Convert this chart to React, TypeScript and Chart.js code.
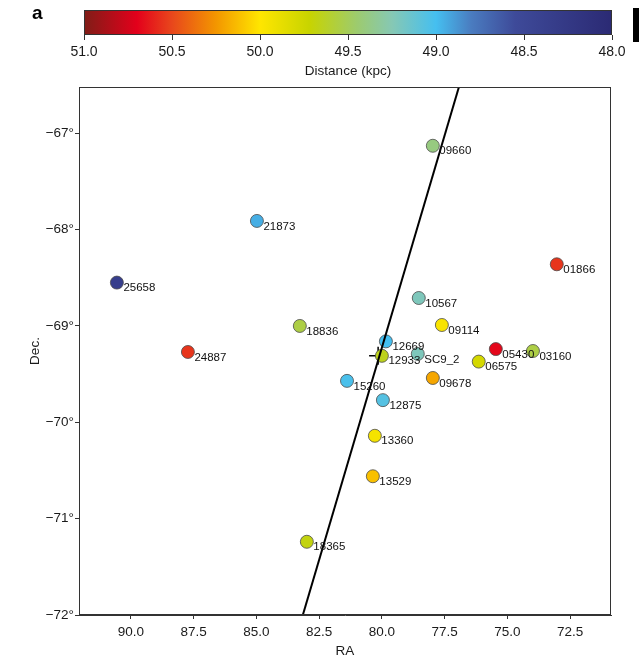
import React, { useEffect, useRef } from "react";
import { Chart, registerables } from "chart.js";
Chart.register(...registerables);

// ---- data ----
const starIds = ["09660", "21873", "25658", "01866", "10567", "18836", "24887", "09114", "12669", "12933", "SC9_2", "05430", "03160", "06575", "09678", "15260", "12875", "13360", "13529", "18365"];
const raValues = [77.97, 84.98, 90.56, 73.03, 78.53, 83.27, 87.73, 77.61, 79.84, 80.0, 78.57, 75.46, 73.98, 76.14, 77.97, 81.39, 79.96, 80.28, 80.36, 82.99];
const decValues = [-67.13, -67.91, -68.55, -68.36, -68.71, -69.0, -69.27, -68.99, -69.16, -69.31, -69.29, -69.24, -69.26, -69.37, -69.54, -69.57, -69.77, -70.14, -70.56, -71.24];
const distances = [49.4, 48.95, 48.35, 50.55, 49.22, 49.55, 50.55, 49.97, 49.0, 49.65, 49.22, 50.68, 49.55, 49.78, 50.2, 49.02, 49.06, 49.95, 50.12, 49.68];

const lineRA = [76.93, 83.15];
const lineDec = [-66.52, -72.0];
const centerRA = [80.15];
const centerDec = [-69.31];

const raTicks = [90.0, 87.5, 85.0, 82.5, 80.0, 77.5, 75.0, 72.5];
const decTicks = [-72, -71, -70, -69, -68, -67];
const distanceTicks = [51.0, 50.5, 50.0, 49.5, 49.0, 48.5, 48.0];

const cmapValues = [51.0, 50.7, 50.5, 50.25, 50.0, 49.72, 49.45, 49.25, 49.0, 48.8, 48.55, 48.0];
const cmapColors = ["#7f1d17", "#e3001b", "#e8471c", "#f39600", "#ffe600", "#c8d400", "#9dcb6e", "#86c8b4", "#45bff0", "#4a7cc0", "#3e4a99", "#2b2a74"];

const FONT = "'Liberation Sans', Arial, Helvetica, sans-serif";

function hexToRgb(h: string) {
  const n = parseInt(h.slice(1), 16);
  return [(n >> 16) & 255, (n >> 8) & 255, n & 255];
}
function colorFor(d: number) {
  if (d >= cmapValues[0]) return cmapColors[0];
  for (let i = 0; i < cmapValues.length - 1; i++) {
    const a = cmapValues[i], b = cmapValues[i + 1];
    if (d <= a && d >= b) {
      const t = (a - d) / (a - b);
      const c1 = hexToRgb(cmapColors[i]), c2 = hexToRgb(cmapColors[i + 1]);
      const c = c1.map((v, k) => Math.round(v + (c2[k] - v) * t));
      return `rgb(${c[0]},${c[1]},${c[2]})`;
    }
  }
  return cmapColors[cmapColors.length - 1];
}

const framePlugin = {
  id: "frame",
  afterDatasetsDraw(chart: any) {
    const { ctx, chartArea: a } = chart;
    ctx.save();
    ctx.strokeStyle = "#333";
    ctx.lineWidth = 1;
    ctx.strokeRect(a.left + 0.5, a.top + 0.5, a.right - a.left - 1, a.bottom - a.top - 1);
    ctx.restore();
  },
};

const labelPlugin = {
  id: "starLabels",
  afterDatasetsDraw(chart: any) {
    const meta = chart.getDatasetMeta(1);
    const { ctx } = chart;
    ctx.save();
    ctx.font = `11.5px ${FONT}`;
    ctx.fillStyle = "#111";
    ctx.textAlign = "left";
    ctx.textBaseline = "middle";
    meta.data.forEach((el: any, i: number) => {
      ctx.fillText(starIds[i], el.x + 6.5, el.y + 5.5);
    });
    ctx.restore();
  },
};

const gradientPlugin = {
  id: "cbarGradient",
  beforeDatasetsDraw(chart: any) {
    const { ctx, chartArea: a, scales } = chart;
    const x = scales.x;
    const p0 = x.getPixelForValue(cmapValues[0]);
    const p1 = x.getPixelForValue(cmapValues[cmapValues.length - 1]);
    const g = ctx.createLinearGradient(p0, 0, p1, 0);
    cmapValues.forEach((v, i) => {
      g.addColorStop((x.getPixelForValue(v) - p0) / (p1 - p0), cmapColors[i]);
    });
    ctx.save();
    ctx.fillStyle = g;
    ctx.fillRect(a.left, a.top, a.right - a.left, a.bottom - a.top);
    ctx.strokeStyle = "#333";
    ctx.lineWidth = 1;
    ctx.strokeRect(a.left + 0.5, a.top + 0.5, a.right - a.left - 1, a.bottom - a.top - 1);
    ctx.restore();
  },
};

export default function App() {
  const mainRef = useRef<HTMLCanvasElement>(null);
  const cbarRef = useRef<HTMLCanvasElement>(null);

  useEffect(() => {
    const points = raValues.map((x, i) => ({ x, y: decValues[i] }));
    const colors = distances.map(colorFor);
    const main = new Chart(mainRef.current!, {
      type: "scatter",
      data: {
        datasets: [
          {
            type: "line",
            data: lineRA.map((x, i) => ({ x, y: lineDec[i] })),
            borderColor: "#000",
            borderWidth: 2,
            pointRadius: 0,
            fill: false,
          } as any,
          {
            data: points,
            pointRadius: 6.5,
            backgroundColor: colors,
            borderColor: "#4a4a4a",
            borderWidth: 0.8,
          },
          {
            data: centerRA.map((x, i) => ({ x, y: centerDec[i] })),
            pointStyle: "cross",
            pointRadius: 9,
            borderColor: "#000",
            borderWidth: 1.5,
          },
        ],
      },
      options: {
        animation: false,
        responsive: false,
        layout: { padding: { top: 87, right: 28, left: 0, bottom: 0 } },
        plugins: { legend: { display: false }, tooltip: { enabled: false } },
        scales: {
          x: {
            type: "linear",
            reverse: true,
            min: 70.87,
            max: 92.07,
            afterBuildTicks: (s: any) => {
              s.ticks = raTicks.map((v) => ({ value: v }));
            },
            afterFit: (s: any) => {
              s.height = 45;
            },
            ticks: {
              callback: (v: any) => Number(v).toFixed(1),
              font: { family: FONT, size: 13.5 },
              color: "#1a1a1a",
              padding: 5,
              maxRotation: 0,
              autoSkip: false,
            },
            grid: { drawOnChartArea: false, drawTicks: true, tickLength: 4, color: "#333" },
            border: { display: true, color: "#333", width: 1 },
            title: { display: true, text: "RA", font: { family: FONT, size: 13.5 }, color: "#1a1a1a", padding: { top: 0, bottom: 1 } },
          },
          y: {
            type: "linear",
            min: -72,
            max: -66.52,
            afterBuildTicks: (s: any) => {
              s.ticks = decTicks.map((v) => ({ value: v }));
            },
            afterFit: (s: any) => {
              s.width = 79;
            },
            ticks: {
              callback: (v: any) => `\u2212${Math.abs(Number(v))}\u00b0`,
              font: { family: FONT, size: 13.5 },
              color: "#1a1a1a",
              padding: 1,
              autoSkip: false,
            },
            grid: { drawOnChartArea: false, drawTicks: true, tickLength: 4, color: "#333" },
            border: { display: true, color: "#333", width: 1 },
            title: { display: true, text: "Dec.", font: { family: FONT, size: 13.5 }, color: "#1a1a1a", padding: { top: 27, bottom: 0 } },
          },
        },
      },
      plugins: [framePlugin, labelPlugin],
    });

    const cbar = new Chart(cbarRef.current!, {
      type: "scatter",
      data: { datasets: [{ data: [] }] },
      options: {
        animation: false,
        responsive: false,
        layout: { padding: { top: 10, right: 27, left: 84, bottom: 0 } },
        plugins: { legend: { display: false }, tooltip: { enabled: false } },
        scales: {
          x: {
            type: "linear",
            reverse: true,
            min: 48,
            max: 51,
            afterBuildTicks: (s: any) => {
              s.ticks = distanceTicks.map((v) => ({ value: v }));
            },
            afterFit: (s: any) => {
              s.height = 45;
            },
            ticks: {
              callback: (v: any) => Number(v).toFixed(1),
              font: { family: FONT, size: 14 },
              color: "#1a1a1a",
              padding: 4,
              maxRotation: 0,
              autoSkip: false,
            },
            grid: { drawOnChartArea: false, drawTicks: true, tickLength: 5, color: "#333" },
            border: { display: false },
            title: { display: true, text: "Distance (kpc)", font: { family: FONT, size: 13.5 }, color: "#1a1a1a", padding: { top: 0, bottom: 1 } },
          },
          y: { display: false, min: 0, max: 1 },
        },
      },
      plugins: [gradientPlugin],
    });

    return () => {
      main.destroy();
      cbar.destroy();
    };
  }, []);

  return (
    <div style={{ position: "fixed", left: 0, top: 0, width: 639, height: 660, background: "#fff", overflow: "hidden" }}>
      <canvas ref={mainRef} width={639} height={660} style={{ position: "absolute", left: 0, top: 0 }} />
      <canvas ref={cbarRef} width={639} height={80} style={{ position: "absolute", left: 0, top: 0 }} />
      <div style={{ position: "absolute", left: 32, top: 2, fontFamily: FONT, fontWeight: "bold", fontSize: 19, color: "#000" }}>a</div>
      <div style={{ position: "absolute", left: 633, top: 8, width: 6, height: 34, background: "#000" }} />
    </div>
  );
}
